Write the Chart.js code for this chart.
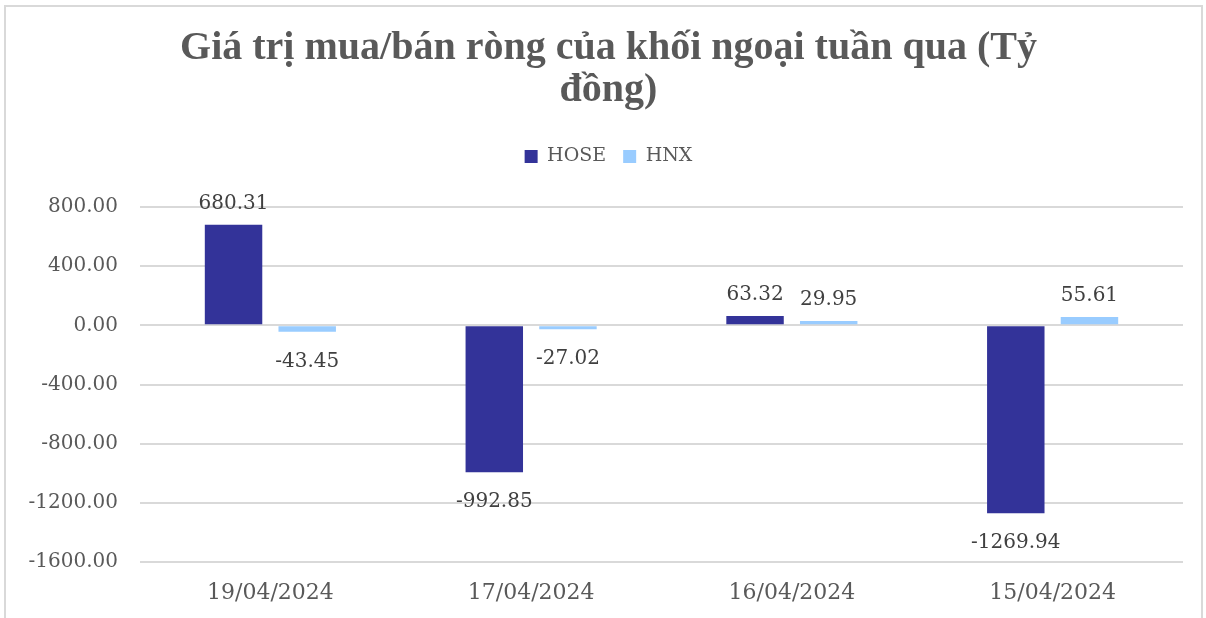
<!DOCTYPE html>
<html><head><meta charset="utf-8">
<script src="https://cdn.jsdelivr.net/npm/chart.js@4.4.1/dist/chart.umd.min.js"></script>
<style>
html,body{margin:0;padding:0;background:#fff;}
#wrap{position:absolute;left:0;top:0;width:1206px;height:618px;}
#frame{position:absolute;left:4px;top:5px;width:1199px;height:620px;border:2px solid #d9d9d9;box-sizing:border-box;pointer-events:none;}
</style></head>
<body>
<div id="wrap"><canvas id="c" width="1206" height="618"></canvas></div>
<div id="frame"></div>
<script>
const titleLines = ['Giá trị mua/bán ròng của khối ngoại tuần qua (Tỷ', 'đồng)'];
const categories = ['19/04/2024', '17/04/2024', '16/04/2024', '15/04/2024'];
const hoseValues = [680.31, -992.85, 63.32, -1269.94];
const hnxValues = [-43.45, -27.02, 29.95, 55.61];
const seriesNames = ['HOSE', 'HNX'];
const yMin = -1600, yMax = 800, yStep = 400;

const serif = "'DejaVu Serif', serif";

const labelPlugin = {
  id: 'valLabels',
  afterLayout(chart) {
    // let the y tick labels extend into the left padding without clipping
    chart.scales.y.left = 0;
  },
  afterDatasetsDraw(chart) {
    const ctx = chart.ctx;
    ctx.save();
    ctx.font = "20px " + serif;
    ctx.fillStyle = '#404040';
    ctx.textAlign = 'center';
    ctx.textBaseline = 'alphabetic';
    chart.data.datasets.forEach((ds, di) => {
      const meta = chart.getDatasetMeta(di);
      meta.data.forEach((el, i) => {
        const v = ds.data[i];
        const txt = v.toFixed(2);
        if (v >= 0) ctx.fillText(txt, el.x, el.y - 16);
        else ctx.fillText(txt, el.x, el.y + 35);
      });
    });
    ctx.restore();
  }
};

const spacerPlugin = {
  id: 'spacer',
  beforeInit(chart) {
    const box = {
      position: 'top', weight: 0, fullSize: true, options: {},
      top: 0, left: 0, right: 0, bottom: 0, width: 0, height: 0,
      isHorizontal() { return true; },
      update(maxWidth) { this.width = maxWidth; this.height = 31; },
      draw() {}
    };
    Chart.layouts.addBox(chart, box);
  }
};

new Chart(document.getElementById('c'), {
  type: 'bar',
  data: {
    labels: categories,
    datasets: [
      { label: seriesNames[0], data: hoseValues, backgroundColor: '#333399', categoryPercentage: 0.565, barPercentage: 0.78 },
      { label: seriesNames[1], data: hnxValues, backgroundColor: '#99CCFF', categoryPercentage: 0.565, barPercentage: 0.78 }
    ]
  },
  options: {
    responsive: false,
    animation: false,
    layout: { padding: { left: 34, right: 23, top: 28, bottom: 8 } },
    plugins: {
      title: {
        display: true,
        text: titleLines,
        color: '#595959',
        font: { family: "'Liberation Serif', serif", size: 40, weight: 'bold', lineHeight: 1.05 },
        padding: { top: 0, bottom: 18 }
      },
      legend: {
        display: true,
        position: 'top',
        labels: {
          color: '#595959',
          font: { family: serif, size: 19 },
          boxWidth: 13, boxHeight: 13, padding: 17
        }
      },
      tooltip: { enabled: false }
    },
    scales: {
      x: {
        afterFit(s) { s.height = 48; },
        grid: { display: false, drawTicks: false },
        border: { display: false },
        ticks: { color: '#595959', font: { family: serif, size: 22 }, padding: 18 }
      },
      y: {
        min: yMin, max: yMax,
        afterFit(s) { s.width = 106; },
        grid: { color: '#d9d9d9', lineWidth: 2, drawTicks: false },
        border: { display: false },
        ticks: { stepSize: yStep, color: '#595959', font: { family: serif, size: 20 }, padding: 22,
          callback: v => Number(v).toFixed(2) }
      }
    }
  },
  plugins: [spacerPlugin, labelPlugin]
});
</script>
</body></html>
